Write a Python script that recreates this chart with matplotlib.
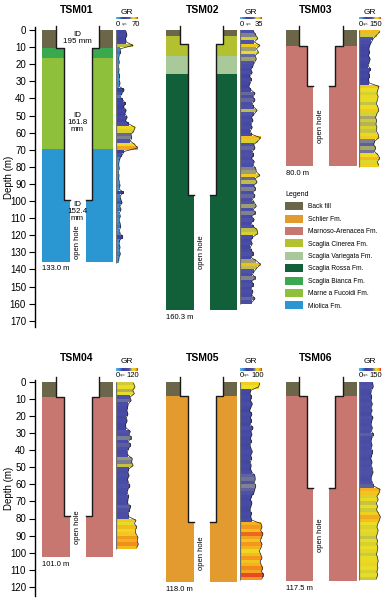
import numpy as np
import matplotlib
matplotlib.use('Agg')
import matplotlib.pyplot as plt
from matplotlib.colors import LinearSegmentedColormap, Normalize
from matplotlib.patches import Patch

plt.rcParams['font.family'] = ['Liberation Sans', 'DejaVu Sans']

W, H = 391, 600

# formations and colours
formations = ['Back fill', 'Schlier Fm.', 'Marnoso-Arenacea Fm.', 'Scaglia Cinerea Fm.',
              'Scaglia Variegata Fm.', 'Scaglia Rossa Fm.', 'Scaglia Bianca Fm.',
              'Marne a Fucoidi Fm.', 'Miolica Fm.']
formation_colors = ['#6b6649', '#e39a2e', '#c77670', '#b3c130', '#a9c99b',
                    '#11603a', '#3aa84e', '#8ec03c', '#2a96d2']
fcol = dict(zip(formations, formation_colors))

wells = ['TSM01', 'TSM02', 'TSM03', 'TSM04', 'TSM05', 'TSM06']
td_labels = ['133.0 m', '160.3 m', '80.0 m', '101.0 m', '118.0 m', '117.5 m']
hole_bottom = [135.4, 163.6, 79.5, 102.4, 117.0, 116.5]
casing_shoes = [(10.3, 99.4), (8.2, 96.4), (9.4, 32.7), (9.2, 78.4), (8.6, 82.0), (8.3, 62.0)]
open_hole_depth = [124, 130, 56, 85, 100, 90]
gr_max = [70, 35, 150, 120, 100, 150]

layers = [
    [('Back fill', 0, 10.3), ('Scaglia Bianca Fm.', 10.3, 16.3),
     ('Marne a Fucoidi Fm.', 16.3, 69.7), ('Miolica Fm.', 69.7, 135.4)],
    [('Back fill', 0, 3.5), ('Scaglia Cinerea Fm.', 3.5, 15.0),
     ('Scaglia Variegata Fm.', 15.0, 25.7), ('Scaglia Rossa Fm.', 25.7, 163.6)],
    [('Back fill', 0, 9.4), ('Marnoso-Arenacea Fm.', 9.4, 79.5)],
    [('Back fill', 0, 9.2), ('Marnoso-Arenacea Fm.', 9.2, 102.4)],
    [('Back fill', 0, 8.6), ('Schlier Fm.', 8.6, 117.0)],
    [('Back fill', 0, 8.3), ('Marnoso-Arenacea Fm.', 8.3, 116.5)],
]

# GR logs (cps), one sample every 2 m starting at 1 m
gr_tsm01 = [30, 32, 28, 30, 50, 12, 14, 9, 8, 10, 7, 9, 8, 11, 9, 12, 10, 24, 18, 12,
            20, 28, 22, 30, 26, 33, 28, 38, 56, 52, 44, 46, 42, 55, 63, 24, 18, 12, 9, 8,
            10, 7, 9, 8, 10, 12, 9, 22, 12, 14, 18, 11, 15, 10, 13, 9, 12, 14, 10, 12,
            20, 11, 9, 12, 10, 13, 9, 8]
gr_tsm02 = [20, 23, 26, 21, 29, 24, 27, 22, 24, 21, 19, 16, 18, 14, 17, 15, 13, 16, 22, 19,
            22, 18, 20, 25, 21, 17, 19, 16, 18, 15, 17, 30, 26, 20, 22, 18, 20, 17, 21, 19,
            23, 24, 29, 22, 25, 20, 23, 19, 22, 18, 21, 24, 19, 23, 17, 21, 16, 20, 25, 26,
            19, 16, 18, 15, 17, 20, 16, 24, 30, 25, 21, 18, 23, 17, 20, 16, 19, 17, 22, 18]
gr_tsm03 = [130, 110, 90, 78, 68, 62, 66, 60, 70, 64, 58, 72, 62, 66, 60, 64, 125, 118, 112, 120,
            115, 108, 118, 124, 112, 104, 110, 106, 112, 108, 120, 124, 98, 92, 104, 96, 118, 130, 114, 122]
gr_tsm04 = [88, 95, 84, 92, 70, 76, 62, 58, 55, 60, 52, 56, 48, 50, 72, 66, 78, 60, 74, 64,
            56, 60, 82, 78, 86, 64, 60, 66, 58, 62, 70, 60, 56, 64, 60, 58, 74, 68, 62, 64,
            100, 92, 104, 96, 100, 110, 106, 112, 104]
gr_tsm05 = [82, 78, 46, 42, 48, 44, 52, 46, 40, 50, 44, 48, 42, 55, 46, 50, 44, 48, 42, 46,
            52, 45, 49, 43, 47, 44, 50, 62, 64, 60, 66, 62, 58, 48, 44, 50, 46, 42, 48, 45,
            50, 88, 92, 86, 96, 90, 84, 92, 88, 80, 86, 92, 84, 88, 94, 90, 98, 92]
gr_tsm06 = [86, 90, 78, 74, 80, 76, 84, 78, 82, 74, 88, 80, 76, 84, 78, 92, 80, 76, 82, 78,
            86, 80, 74, 82, 78, 84, 88, 80, 76, 84, 92, 132, 126, 112, 120, 108, 116, 110, 122, 134,
            128, 118, 112, 120, 114, 108, 116, 112, 118, 114, 110, 116, 120, 114, 118, 112, 116, 110]
gr_logs = [gr_tsm01, gr_tsm02, gr_tsm03, gr_tsm04, gr_tsm05, gr_tsm06]
gr_step = 2.0

gr_cmap = LinearSegmentedColormap.from_list('gr', [
    (0.0, '#5cb8ec'), (0.15, '#3d8fd6'), (0.3, '#3b3f9e'), (0.6, '#4e52a8'),
    (0.67, '#8a8b8c'), (0.72, '#c6c440'), (0.78, '#ece022'), (0.88, '#f4b41e'),
    (0.94, '#f28a1c'), (1.0, '#e4262a')])

# layout (pixels)
zero_px = [30.0, 381.7]
px_per_m = 1.71
ylims = [(-1.8, 173.6), (-1.0, 125.5)]
col_left = [42, 166, 285.5]
col_w = 71
half_w = 35.5
hole_hw = [21.7, 14.0, 8.0]
gr_left = [116, 240, 359]
gr_w = 24
title_x = [77, 202.5, 316]
title_y = [10, 357.7]
grlab_y = [12, 361.7]
cbar_y = [16.5, 368.3]
num_y = [24, 375.5]


def box(x0, y0, w, h):
    return [x0 / W, 1 - (y0 + h) / H, w / W, h / H]


fig = plt.figure(figsize=(W / 100, H / 100), dpi=100)

for row in range(2):
    lo, hi = ylims[row]
    top_px = zero_px[row] + lo * px_per_m
    h_px = (hi - lo) * px_per_m

    # depth axis
    dax = fig.add_axes(box(35, top_px, 1, h_px))
    dax.set_ylim(hi, lo)
    dax.set_xticks([])
    for s in ['top', 'right', 'bottom']:
        dax.spines[s].set_visible(False)
    dax.spines['left'].set_linewidth(1.0)
    dax.set_yticks(np.arange(0, 180 if row == 0 else 130, 10))
    dax.tick_params(axis='y', labelsize=7, length=4, width=0.8, pad=2.5)
    dax.patch.set_visible(False)
    fig.text(8.5 / W, 1 - (zero_px[row] + (hi + lo) / 2 * px_per_m) / H, 'Depth (m)',
             rotation=90, ha='center', va='center', fontsize=7)

    for col in range(3):
        i = row * 3 + col
        s1, s2 = casing_shoes[i]
        bot = hole_bottom[i]
        segs = [(0, s1, hole_hw[0]), (s1, s2, hole_hw[1]), (s2, bot, hole_hw[2])]

        ax = fig.add_axes(box(col_left[col], top_px, col_w, h_px))
        ax.set_xlim(-half_w, half_w)
        ax.set_ylim(hi, lo)
        ax.axis('off')
        for name, a, b in layers[i]:
            for st, sb, hw in segs:
                y0, y1 = max(a, st), min(b, sb)
                if y1 > y0:
                    ax.barh(y0, half_w - hw, height=y1 - y0, left=-half_w, align='edge',
                            color=fcol[name], lw=0)
                    ax.barh(y0, half_w - hw, height=y1 - y0, left=hw, align='edge',
                            color=fcol[name], lw=0)
        xs = [hole_hw[0], hole_hw[0], hole_hw[1], hole_hw[1], hole_hw[2]]
        ys = [-2.5, s1, s1, s2, s2]
        ax.plot([-x for x in xs], ys, color='#1a1a1a', lw=1.0, clip_on=False)
        ax.plot(xs, ys, color='#1a1a1a', lw=1.0, clip_on=False)

        ax.text(0, open_hole_depth[i], 'open hole', rotation=90, ha='center', va='center',
                fontsize=5.5)
        ax.text(-half_w, bot + 2.2, td_labels[i], ha='left', va='top', fontsize=5.5)
        if i == 0:
            ax.text(0, 4.5, 'ID\n195 mm', ha='center', va='center', fontsize=5.8, linespacing=0.95)
            ax.text(0, 54, 'ID\n161.8\nmm', ha='center', va='center', fontsize=5.8, linespacing=0.95)
            ax.text(0, 106, 'ID\n152.4\nmm', ha='center', va='center', fontsize=5.8, linespacing=0.95)

        fig.text(title_x[col] / W, 1 - title_y[row] / H, wells[i], ha='center', va='center',
                 fontsize=7.5, fontweight='bold')

        # GR log
        gr = np.array(gr_logs[i])
        depth = gr_step / 2 + gr_step * np.arange(len(gr))
        norm = Normalize(0, gr_max[i])
        gax = fig.add_axes(box(gr_left[col], top_px, gr_w, h_px))
        gax.set_xlim(0, gr_max[i])
        gax.set_ylim(hi, lo)
        gax.axis('off')
        gax.barh(depth, gr, height=gr_step, color=gr_cmap(norm(gr)), lw=0)
        gax.plot(gr, depth, color='#202020', lw=0.5)
        gax.vlines(0, 0, depth[-1] + gr_step / 2, color='#707070', lw=0.9)

        cax = fig.add_axes(box(gr_left[col], cbar_y[row], 22, 3))
        cax.imshow(np.linspace(0, 1, 128)[None, :], aspect='auto', cmap=gr_cmap)
        cax.axis('off')
        fig.text((gr_left[col] + 11) / W, 1 - grlab_y[row] / H, 'GR', ha='center', va='center',
                 fontsize=6)
        fig.text((gr_left[col] + 1.5) / W, 1 - num_y[row] / H, '0', ha='center', va='center',
                 fontsize=5.5)
        fig.text((gr_left[col] + 23.5) / W, 1 - num_y[row] / H, str(gr_max[i]), ha='right',
                 va='center', fontsize=5.5)
        cps_x = 7 if gr_max[i] >= 100 else 9
        fig.text((gr_left[col] + cps_x) / W, 1 - (num_y[row] - 0.5) / H, 'cps', ha='center',
                 va='center', fontsize=2.6, color='#444444')

handles = [Patch(facecolor=c, edgecolor='none') for c in formation_colors]
fig.legend(handles, formations, loc='upper left', bbox_to_anchor=(285 / W, 1 - 191 / H),
           frameon=False, fontsize=4.8, title='Legend', title_fontsize=5, alignment='left',
           handlelength=2.7, handleheight=1.5, labelspacing=0.62, handletextpad=0.75,
           borderpad=0, borderaxespad=0)

fig.savefig('out.png', dpi=100)
